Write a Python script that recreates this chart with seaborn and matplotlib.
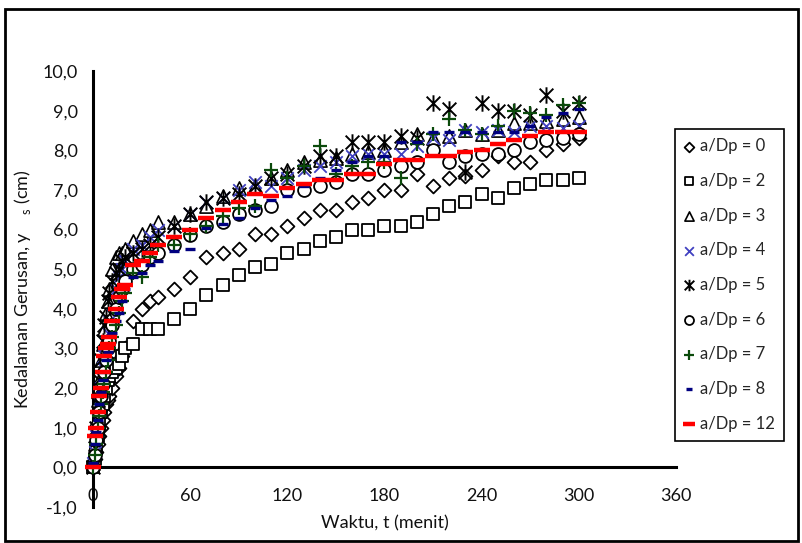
import matplotlib

matplotlib.use("Agg")

import matplotlib.pyplot as plt
import seaborn as sns
from matplotlib.patches import Rectangle
from matplotlib.path import Path

# waktu pengamatan (menit)
waktu = [0, 1, 2, 3, 4, 5, 6, 7, 8, 9, 10, 12, 14, 16, 18, 20, 25, 30, 35, 40,
         50, 60, 70, 80, 90, 100, 110, 120, 130, 140, 150, 160, 170, 180, 190,
         200, 210, 220, 230, 240, 250, 260, 270, 280, 290, 300]

ys_0 = [0.0, 0.2, 0.4, 0.6, 0.8, 1.0, 1.2, 1.4, 1.6, 1.7, 1.8, 2.0, 2.3, 2.5, 2.8, 3.0, 3.7, 4.0, 4.2, 4.3,
        4.5, 4.8, 5.3, 5.4, 5.5, 5.9, 5.9, 6.1, 6.3, 6.5, 6.5, 6.7, 6.8, 7.0, 7.0, 7.4, 7.1, 7.3, 7.35,
        7.5, 7.85, 7.7, 7.7, 8.0, 8.15, 8.3]
ys_2 = [0.0, 0.2, 0.5, 0.8, 1.1, 1.4, 1.6, 1.8, 2.0, 2.2, 2.3, 2.4, 2.5, 2.6, 2.8, 3.0, 3.1, 3.5, 3.5, 3.5,
        3.75, 4.0, 4.35, 4.6, 4.85, 5.05, 5.13, 5.4, 5.5, 5.7, 5.8, 6.0, 6.0, 6.1, 6.1, 6.2, 6.4, 6.6, 6.7,
        6.9, 6.8, 7.05, 7.15, 7.25, 7.25, 7.3]
ys_3 = [0.1, 0.6, 1.2, 1.7, 2.2, 2.7, 3.1, 3.5, 3.9, 4.2, 4.5, 5.0, 5.3, 5.4, 5.4, 5.5, 5.7, 5.9, 6.0, 6.2,
        6.2, 6.4, 6.6, 6.85, 7.05, 7.1, 7.3, 7.5, 7.7, 7.75, 7.8, 7.9, 7.95, 8.0, 8.2, 8.4, 8.3, 8.35, 8.5,
        8.4, 8.5, 8.7, 8.7, 8.75, 8.8, 8.85]
ys_4 = [0.1, 0.4, 0.8, 1.2, 1.6, 2.0, 2.5, 2.8, 3.1, 3.4, 3.7, 4.1, 4.5, 4.8, 5.0, 5.2, 5.5, 5.6, 5.8, 6.0,
        6.1, 6.4, 6.7, 6.8, 7.0, 7.2, 7.1, 7.3, 7.5, 7.6, 7.7, 7.85, 7.9, 7.9, 7.9, 8.1, 8.3, 8.25, 8.5,
        8.45, 8.5, 8.45, 8.6, 8.6, 8.55, 8.6]
ys_5 = [0.0, 0.5, 1.0, 1.6, 2.2, 2.7, 3.2, 3.6, 3.8, 4.2, 4.4, 4.7, 4.9, 5.0, 5.2, 5.3, 5.4, 5.5, 5.6, 5.8,
        6.1, 6.4, 6.7, 6.8, 6.9, 7.1, 7.3, 7.4, 7.6, 7.85, 7.85, 8.2, 8.2, 8.2, 8.35, 8.3, 9.2, 9.05, 7.45,
        9.2, 9.0, 9.0, 8.9, 9.4, 9.0, 9.2]
ys_6 = [0.0, 0.3, 0.7, 1.0, 1.4, 1.8, 2.1, 2.4, 2.7, 3.0, 3.2, 3.6, 4.0, 4.3, 4.5, 4.7, 5.0, 5.1, 5.3, 5.4,
        5.6, 5.85, 6.1, 6.2, 6.4, 6.5, 6.6, 7.0, 7.0, 7.1, 7.2, 7.4, 7.4, 7.5, 7.6, 7.7, 8.0, 7.7, 7.85,
        7.9, 7.9, 8.0, 8.2, 8.25, 8.3, 8.4]
ys_7 = [0.0, 0.3, 0.6, 1.0, 1.3, 1.6, 1.9, 2.1, 2.4, 2.7, 3.0, 3.3, 3.6, 3.9, 4.2, 4.4, 4.9, 4.8, 5.3, 5.6,
        5.6, 5.9, 6.1, 6.35, 6.55, 6.6, 7.5, 7.3, 7.6, 8.1, 7.4, 7.6, 7.7, 7.7, 7.3, 8.15, 8.4, 8.8, 8.5,
        8.4, 8.6, 9.0, 8.95, 8.9, 9.15, 9.2]
ys_8 = [0.1, 0.6, 0.9, 1.2, 1.6, 1.9, 2.2, 2.4, 2.7, 2.9, 3.1, 3.4, 3.7, 3.9, 4.2, 4.5, 4.8, 4.9, 5.1, 5.2,
        5.45, 5.5, 6.05, 6.15, 6.3, 6.55, 6.75, 6.85, 7.1, 7.3, 7.5, 7.7, 7.85, 7.85, 8.2, 8.2, 8.45, 8.45,
        8.45, 8.45, 8.45, 8.45, 8.6, 8.85, 8.95, 9.05]
ys_12 = [0.0, 0.8, 1.0, 1.4, 1.8, 2.0, 2.4, 2.8, 3.0, 3.1, 3.3, 3.7, 4.0, 4.3, 4.5, 4.6, 5.1, 5.2, 5.4, 5.6,
         5.8, 6.0, 6.3, 6.5, 6.7, 6.9, 6.85, 7.05, 7.15, 7.25, 7.25, 7.4, 7.4, 7.65, 7.75, 7.75, 7.85, 7.85,
         7.95, 8.0, 8.15, 8.25, 8.35, 8.45, 8.45, 8.45]

labels = ["a/Dp = 0", "a/Dp = 2", "a/Dp = 3", "a/Dp = 4", "a/Dp = 5",
          "a/Dp = 6", "a/Dp = 7", "a/Dp = 8", "a/Dp = 12"]

x_ticks = [0, 60, 120, 180, 240, 300, 360]
y_ticks = [-1, 0, 1, 2, 3, 4, 5, 6, 7, 8, 9, 10]
y_ticklabels = ["-1,0", "0,0", "1,0", "2,0", "3,0", "4,0", "5,0",
                "6,0", "7,0", "8,0", "9,0", "10,0"]

# Excel-style asterisk: X with a vertical bar
asterisk = Path(
    [(-0.5, -0.5), (0.5, 0.5), (-0.5, 0.5), (0.5, -0.5), (0, -0.6), (0, 0.6)],
    [Path.MOVETO, Path.LINETO, Path.MOVETO, Path.LINETO, Path.MOVETO, Path.LINETO],
)

series = [ys_0, ys_2, ys_3, ys_4, ys_5, ys_6, ys_7, ys_8, ys_12]
styles = [
    dict(marker="D", s=50, color="white", edgecolor="black", linewidth=1.3),
    dict(marker="s", s=75, color="white", edgecolor="black", linewidth=1.3),
    dict(marker="^", s=90, color="white", edgecolor="black", linewidth=1.2),
    dict(marker="x", s=80, color="#4040c0", linewidth=1.3),
    dict(marker=asterisk, s=140, color="black", edgecolor="black", linewidth=1.4),
    dict(marker="o", s=85, color="white", edgecolor="black", linewidth=1.3),
    dict(marker="+", s=115, color="#0b4a0b", linewidth=1.6),
    dict(marker="_", s=45, color="#000080", linewidth=2.4),
    dict(marker="_", s=130, color="#ff0000", linewidth=3.2),
]

sns.set_style("white")
plt.rcParams["font.family"] = ["Lato", "DejaVu Sans"]
plt.rcParams["mathtext.fontset"] = "custom"
plt.rcParams["mathtext.rm"] = "Lato"

fig = plt.figure(figsize=(8.02, 5.43), dpi=100)
ax = fig.add_axes([93 / 802, 36 / 543, (676 - 93) / 802, (507 - 71) / 543])

for ys, lab, st in zip(series, labels, styles):
    sns.scatterplot(x=waktu, y=ys, label=lab, ax=ax, clip_on=False, zorder=3, **st)

ax.set_xlim(0, 360)
ax.set_ylim(-1, 10)
ax.set_xticks(x_ticks)
ax.set_yticks(y_ticks)
ax.set_yticklabels(y_ticklabels)

ax.spines["top"].set_visible(False)
ax.spines["right"].set_visible(False)
ax.spines["bottom"].set_position(("data", 0))
for side in ("left", "bottom"):
    ax.spines[side].set_color("black")
    ax.spines[side].set_linewidth(2.2)
ax.tick_params(axis="both", direction="out", length=5, width=2, color="black",
               labelsize=13, labelcolor="#111111")
ax.tick_params(axis="x", pad=10)
ax.tick_params(axis="y", pad=6)
ax.grid(False)

ax.set_xlabel("Waktu, t (menit)", fontsize=13, color="#111111", labelpad=8)
ax.set_ylabel("Kedalaman Gerusan, y    $_\\mathregular{s}$ (cm)", fontsize=13,
              color="#111111", labelpad=7)

leg = ax.legend(
    loc="upper left",
    bbox_to_anchor=(675 / 802, 1 - 129 / 543),
    bbox_transform=fig.transFigure,
    fontsize=12,
    frameon=True,
    fancybox=False,
    edgecolor="black",
    framealpha=1,
    markerscale=0.7,
    scatterpoints=1,
    handlelength=0.6,
    handletextpad=0.35,
    borderpad=0.55,
    labelspacing=1.12,
    borderaxespad=0,
)
leg.get_frame().set_linewidth(1.2)

fig.patches.append(Rectangle((5 / 802, 2 / 543), 793 / 802, 532 / 543,
                             transform=fig.transFigure, fill=False,
                             edgecolor="black", linewidth=2))

fig.savefig("out.png", dpi=100)
